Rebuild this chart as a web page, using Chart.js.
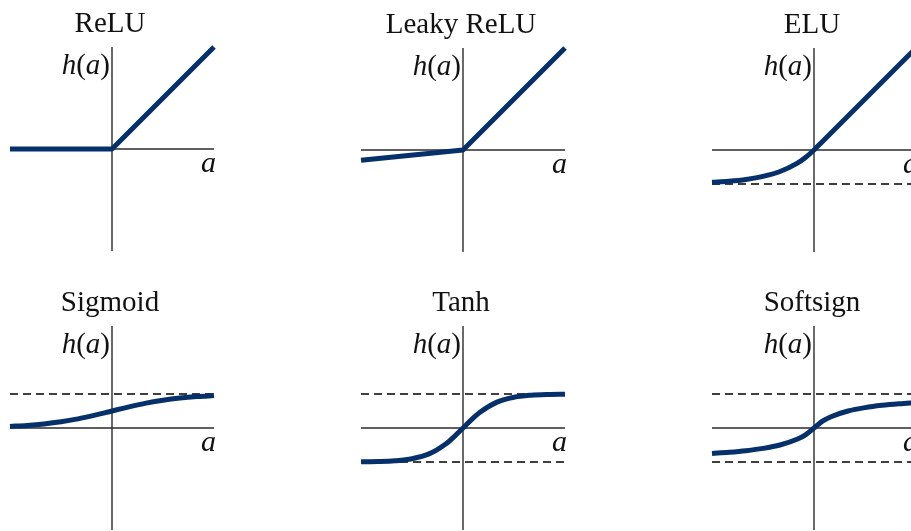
<!DOCTYPE html>
<html>
<head>
<meta charset="utf-8">
<script src="https://cdn.jsdelivr.net/npm/chart.js@4"></script>
<style>
  html, body { margin: 0; padding: 0; background: #fff; }
  body { width: 911px; height: 531px; overflow: hidden; position: relative; }
  .panel { position: absolute; width: 240px; height: 270px; }
</style>
</head>
<body>
<div class="panel" style="left:-8px;top:7px"><canvas id="c0" width="240" height="270"></canvas></div>
<div class="panel" style="left:343px;top:8px"><canvas id="c1" width="240" height="270"></canvas></div>
<div class="panel" style="left:694px;top:8px"><canvas id="c2" width="240" height="270"></canvas></div>
<div class="panel" style="left:-8px;top:286px"><canvas id="c3" width="240" height="270"></canvas></div>
<div class="panel" style="left:343px;top:286px"><canvas id="c4" width="240" height="270"></canvas></div>
<div class="panel" style="left:694px;top:286px"><canvas id="c5" width="240" height="270"></canvas></div>
<script>
const titles = ['ReLU', 'Leaky ReLU', 'ELU', 'Sigmoid', 'Tanh', 'Softsign'];

// sample inputs for the smooth curves (denser near the origin)
const xs = [-3, -2.5, -2, -1.5, -1, -0.5, -0.25, 0, 0.25, 0.5, 1, 1.5, 2, 2.5, 3];

const reluX = [-3, 0, 3];
const reluY = [0, 0, 3];
const leakyX = [-3, 0, 3];
const leakyY = [-0.3, 0, 3];
const eluY = [-0.95, -0.918, -0.865, -0.777, -0.632, -0.393, -0.221, 0, 0.25, 0.5, 1, 1.5, 2, 2.5, 3];
const sigmoidY = [0.047, 0.076, 0.119, 0.182, 0.269, 0.378, 0.438, 0.5, 0.562, 0.622, 0.731, 0.818, 0.881, 0.924, 0.953];
const tanhY = [-0.995, -0.987, -0.964, -0.905, -0.762, -0.462, -0.245, 0, 0.245, 0.462, 0.762, 0.905, 0.964, 0.987, 0.995];
const softsignY = [-0.75, -0.714, -0.667, -0.6, -0.5, -0.333, -0.2, 0, 0.2, 0.333, 0.5, 0.6, 0.667, 0.714, 0.75];

// dashed horizontal limits per panel
const limits = [[], [], [-1], [1], [1, -1], [1, -1]];

const curves = [
  { x: reluX, y: reluY, smooth: false },
  { x: leakyX, y: leakyY, smooth: false },
  { x: xs, y: eluY, smooth: true },
  { x: xs, y: sigmoidY, smooth: true },
  { x: xs, y: tanhY, smooth: true },
  { x: xs, y: softsignY, smooth: true }
];

const LO = -3, HI = 3;
const navy = '#05306a';

const toPoints = (xv, yv) => xv.map((x, i) => ({ x: x, y: yv[i] }));

// draws pieces left to right, ending at xRight
function drawRuns(ctx, runs, xRight, y) {
  const widths = runs.map(r => { ctx.font = r.font; return ctx.measureText(r.text).width; });
  let x = xRight - widths.reduce((a, b) => a + b, 0);
  ctx.textAlign = 'left';
  runs.forEach((r, k) => {
    ctx.font = r.font;
    ctx.fillText(r.text, x, y);
    x += widths[k];
  });
}

// titles and axis names, placed from the origin of each plot
const labelPlugin = {
  id: 'labels',
  afterDraw(chart) {
    const ctx = chart.ctx;
    const ox = chart.scales.x.getPixelForValue(0);
    const oy = chart.scales.y.getPixelForValue(0);
    const it = 'italic 29px "Liberation Serif", serif';
    const up = '29px "Liberation Serif", serif';
    ctx.save();
    ctx.fillStyle = '#111';
    ctx.textBaseline = 'alphabetic';
    ctx.font = up;
    ctx.textAlign = 'center';
    ctx.fillText(chart.options.plugins.labels.title, ox - 2, oy - 117);
    drawRuns(ctx, [
      { text: 'h', font: it }, { text: '(', font: up },
      { text: 'a', font: it }, { text: ')', font: up }
    ], ox - 2, oy - 75);
    ctx.font = 'italic 30px "Liberation Serif", serif';
    ctx.textAlign = 'right';
    ctx.fillText('a', ox + 104, oy + 23);
    ctx.restore();
  }
};

curves.forEach((c, i) => {
  const datasets = [{
    data: toPoints(c.x, c.y),
    borderColor: navy,
    borderWidth: 5,
    cubicInterpolationMode: c.smooth ? 'monotone' : 'default',
    tension: 0,
    borderCapStyle: 'butt',
    borderJoinStyle: 'round',
    clip: 6
  }];
  limits[i].forEach(v => {
    datasets.push({
      data: toPoints([LO, HI], [v, v]),
      borderColor: '#000',
      borderWidth: 1.4,
      borderDash: [8, 5]
    });
  });
  // the two axes through the origin
  datasets.push({ data: toPoints([LO, HI], [0, 0]), borderColor: '#2a2a2a', borderWidth: 1.4 });
  datasets.push({ data: toPoints([0, 0], [LO, HI]), borderColor: '#2a2a2a', borderWidth: 1.4 });

  new Chart(document.getElementById('c' + i), {
    type: 'line',
    data: { datasets: datasets },
    options: {
      responsive: false,
      animation: false,
      events: [],
      layout: { padding: { left: 18, right: 18, top: 40, bottom: 26 } },
      elements: { point: { radius: 0 } },
      plugins: {
        legend: { display: false },
        tooltip: { enabled: false },
        labels: { title: titles[i] }
      },
      scales: {
        x: { type: 'linear', min: LO, max: HI, display: false },
        y: { type: 'linear', min: LO, max: HI, display: false }
      }
    },
    plugins: [labelPlugin]
  });
});
</script>
</body>
</html>
